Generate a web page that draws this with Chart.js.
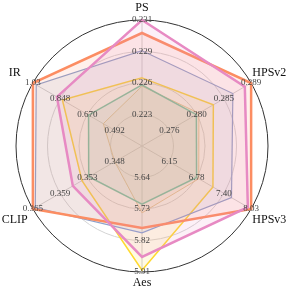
<!DOCTYPE html>
<html>
<head>
<meta charset="utf-8">
<script src="https://cdn.jsdelivr.net/npm/chart.js@4/dist/chart.umd.min.js"></script>
<style>
html,body{margin:0;padding:0;background:#fff;}
#wrap{width:289px;height:293px;position:relative;}
</style>
</head>
<body>
<div id="wrap"><canvas id="c"></canvas></div>
<script>
// Axes (categories)
const categories = ["PS", "HPSv2", "HPSv3", "Aes", "CLIP", "IR"];
// Per-axis ring tick labels (rings 1..4, outer ring last)
const ticksPS    = ["0.223", "0.226", "0.229", "0.231"];
const ticksHPSv2 = ["0.276", "0.280", "0.285", "0.289"];
const ticksHPSv3 = ["6.15", "6.78", "7.40", "8.03"];
const ticksAes   = ["5.64", "5.73", "5.82", "5.91"];
const ticksCLIP  = ["0.348", "0.353", "0.359", "0.365"];
const ticksIR    = ["0.492", "0.670", "0.848", "1.03"];
const axisTicks = [ticksPS, ticksHPSv2, ticksHPSv3, ticksAes, ticksCLIP, ticksIR];

// Series values (order: PS, HPSv2, HPSv3, Aes, CLIP, IR)
const seriesPink   = [0.2310, 0.2880, 7.955, 5.867, 0.3567, 0.872];
const seriesOrange = [0.2299, 0.2890, 8.030, 5.784, 0.3650, 1.030];
const seriesBlue   = [0.2284, 0.2861, 7.579, 5.798, 0.3645, 1.008];
const seriesYellow = [0.2261, 0.2830, 7.153, 5.905, 0.3548, 0.836];
const seriesGreen  = [0.2255, 0.2803, 6.777, 5.716, 0.3534, 0.664];
const seriesTan    = [0.2254, 0.2807, 6.827, 5.741, 0.3480, 0.567];

// Per-axis mapping: value of first ring (at 1/4 radius) to value of outer ring
function axisRange(t){
  const a = parseFloat(t[0]), b = parseFloat(t[t.length-1]);
  const step = (b - a) / 3;
  return {min: a - step, max: b};
}
const ranges = axisTicks.map(axisRange);
function norm(vals){ return vals.map((v,i)=> (v - ranges[i].min)/(ranges[i].max - ranges[i].min)); }

function hexA(hex, a){
  const n = parseInt(hex.slice(1),16);
  return `rgba(${(n>>16)&255},${(n>>8)&255},${n&255},${a})`;
}
function ds(label, vals, color, w){
  return {label, data: norm(vals), borderColor: color, backgroundColor: hexA(color,0.13),
    borderWidth: w, fill: true, pointRadius: 0, pointHoverRadius: 0};
}

const serif = "'Liberation Serif','DejaVu Serif',serif";

const labelPlugin = {
  id: 'axisLabels',
  afterDatasetsDraw(chart){
    const s = chart.scales.r;
    const ctx = chart.ctx;
    ctx.save();
    // per-axis ring values
    ctx.font = "9px " + serif;
    ctx.fillStyle = "#454545";
    ctx.textAlign = "center";
    ctx.textBaseline = "middle";
    axisTicks.forEach((tk, i) => {
      tk.forEach((t, k) => {
        const p = s.getPointPositionForValue(i, (k+1)/4);
        ctx.fillText(t, p.x, p.y);
      });
    });
    // axis names
    ctx.font = "12px " + serif;
    ctx.fillStyle = "#111";
    const dist = [138, 147, 147, 137, 147, 147];
    categories.forEach((c, i) => {
      const p = s.getPointPosition(i, dist[i]);
      ctx.fillText(c, p.x, p.y);
    });
    ctx.restore();
  }
};

new Chart(document.getElementById('c'), {
  type: 'radar',
  data: {
    labels: categories,
    datasets: [
      ds("Pink", seriesPink, "#e78ac3", 2.5),
      ds("Orange", seriesOrange, "#fc8d62", 2.5),
      ds("Blue", seriesBlue, "#8da0cb", 1.2),
      ds("Yellow", seriesYellow, "#ffd92f", 1.5),
      ds("Green", seriesGreen, "#66c2a5", 1.5),
      ds("Tan", seriesTan, "#e5c494", 1.0)
    ]
  },
  options: {
    responsive: true,
    maintainAspectRatio: false,
    animation: false,
    layout: {padding: {left: 16, right: 21, top: 20, bottom: 21}},
    plugins: {legend: {display: false}, tooltip: {enabled: false}},
    elements: {line: {tension: 0}},
    scales: {
      r: {
        min: 0, max: 1,
        ticks: {display: false, stepSize: 0.25},
        pointLabels: {display: false},
        angleLines: {color: "#cfcfcf", lineWidth: 1},
        grid: {
          circular: true,
          color: (c) => c.index === 4 ? "#333" : "#d4d4d4",
          lineWidth: 1
        }
      }
    }
  },
  plugins: [labelPlugin]
});
</script>
</body>
</html>
